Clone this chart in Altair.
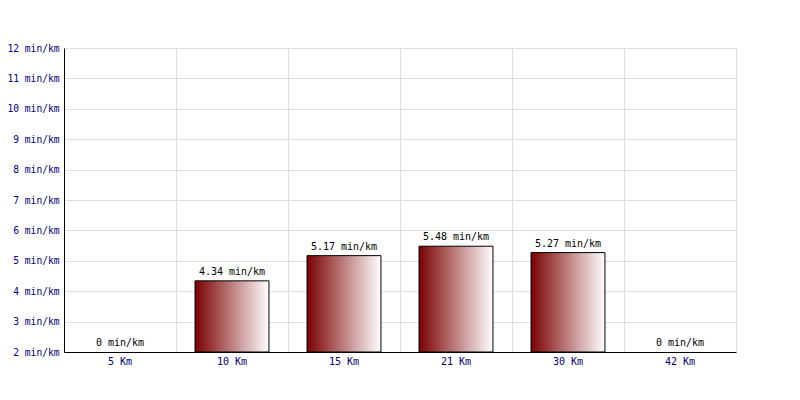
import altair as alt
import pandas as pd

categories = ["5 Km", "10 Km", "15 Km", "21 Km", "30 Km", "42 Km"]
paces = [0, 4.34, 5.17, 5.48, 5.27, 0]
y_ticks = [2, 3, 4, 5, 6, 7, 8, 9, 10, 11, 12]

df = pd.DataFrame({"dist": categories, "pace": paces})

FONT = "DejaVu Sans Mono"

x_axis = alt.Axis(
    title=None,
    labelAngle=0,
    labelFont=FONT,
    labelFontSize=10,
    labelColor="#000080",
    domainColor="#000000",
    ticks=False,
    labelPadding=4,
    grid=True,
    gridColor="#dddddd",
    bandPosition=0,
)
x_scale = alt.Scale(paddingInner=0, paddingOuter=0)

y_axis = alt.Axis(
    title=None,
    values=y_ticks,
    labelExpr="datum.value + ' min/km'",
    labelFont=FONT,
    labelFontSize=9.6,
    labelColor="#000080",
    labelOverlap=False,
    labelLimit=200,
    domainColor="#000000",
    ticks=False,
    labelPadding=5,
    grid=True,
    gridColor="#dddddd",
)
y_scale = alt.Scale(domain=[2, 12], zero=False, nice=False)

grad = alt.Gradient(
    gradient="linear",
    stops=[
        alt.GradientStop(color="#7a0000", offset=0),
        alt.GradientStop(color="#ffffff", offset=1),
    ],
    x1=0, x2=1, y1=0, y2=0,
)

base = alt.Chart(df)

bars = base.transform_filter("datum.pace > 2").mark_bar(
    fill=grad, stroke="#000000", strokeWidth=1, clip=True,
    width=alt.RelativeBandSize(0.66),
).encode(
    x=alt.X("dist:N", sort=categories, scale=x_scale, axis=x_axis),
    y=alt.Y("pace:Q", scale=y_scale, axis=y_axis),
    y2=alt.Y2(datum=2),
)

labels = base.transform_calculate(
    ypos="max(datum.pace, 2)", lab="datum.pace + ' min/km'"
).mark_text(
    font=FONT, fontSize=10, color="#000000", baseline="bottom", dy=-4
).encode(
    x=alt.X("dist:N", sort=categories, scale=x_scale, axis=x_axis),
    y=alt.Y("ypos:Q", scale=y_scale, axis=y_axis),
    text="lab:N",
)

chart = alt.layer(bars, labels).properties(
    width=672,
    height=304,
    autosize=alt.AutoSizeParams(type="none"),
    padding={"left": 56, "top": 40, "right": 56, "bottom": 40},
).configure_view(stroke="#dddddd", strokeWidth=1).configure(background="#ffffff")

chart.save("out.html", embed_options={"renderer": "svg", "actions": False})
